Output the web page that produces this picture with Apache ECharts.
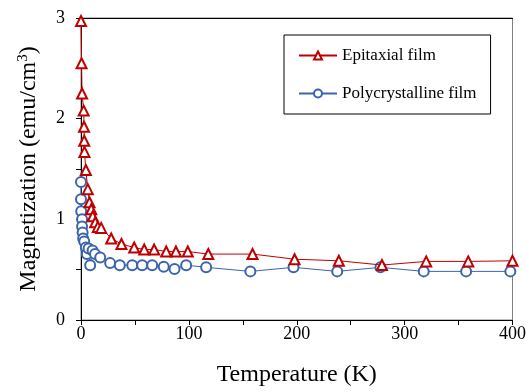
<!DOCTYPE html>
<html>
<head>
<meta charset="utf-8">
<script src="https://cdn.jsdelivr.net/npm/echarts@6/dist/echarts.min.js"></script>
<style>
  html, body { margin: 0; padding: 0; background: #fff; }
  #chart { width: 529px; height: 392px; }
</style>
</head>
<body>
<div id="chart"></div>
<script>
// temperatures (K) and magnetization (emu/cm3)
const epiT = [0, 0.5, 1, 2.5, 2.8, 3, 3.2, 4.5, 6.3, 7.9, 9.5, 10.9, 13.2, 15.6, 18.7, 28, 37.5, 49.3, 58.6, 67.8, 79, 88, 99, 118, 159, 198, 239, 279, 320, 359, 400];
const epiM = [2.97, 2.55, 2.25, 2.08, 1.92, 1.78, 1.67, 1.49, 1.30, 1.17, 1.10, 1.03, 0.97, 0.925, 0.915, 0.81, 0.755, 0.72, 0.70, 0.70, 0.68, 0.68, 0.68, 0.655, 0.655, 0.604, 0.588, 0.546, 0.582, 0.582, 0.588];

const polyT = [0, 0, 0.2, 1, 1, 1.5, 2, 3, 4.5, 5.4, 7, 8.5, 10.7, 13, 17.8, 27, 36, 47.5, 56.7, 66, 76.7, 86.7, 97.5, 116, 157, 197, 237.5, 277.6, 317.7, 357, 398];
const polyM = [1.37, 1.20, 1.08, 1.0, 0.93, 0.87, 0.81, 0.78, 0.72, 0.655, 0.71, 0.545, 0.69, 0.655, 0.62, 0.565, 0.545, 0.545, 0.545, 0.545, 0.53, 0.507, 0.545, 0.523, 0.483, 0.523, 0.483, 0.523, 0.483, 0.483, 0.483];

const xTicks = [0, 100, 200, 300, 400];
const yTicks = [0, 1, 2, 3];

const font = "Liberation Serif";
const red = "#C00000";
const blue = "#3B64AD";

const pairs = (xs, ys) => xs.map((x, i) => [x, ys[i]]);

const chart = echarts.init(document.getElementById("chart"), null, { renderer: "canvas" });

chart.setOption({
  animation: false,
  backgroundColor: "#fff",
  grid: {
    left: 81,
    right: 16,
    top: 18,
    bottom: 67,
    show: true,
    borderColor: "#808080",
    borderWidth: 1,
  },
  legend: {
    orient: "vertical",
    left: 284,
    top: 35,
    padding: [12, 14, 12, 14],
    itemGap: 21,
    itemWidth: 38,
    itemHeight: 10,
    borderColor: "#000",
    borderWidth: 1,
    textStyle: { fontFamily: font, fontSize: 17, color: "#000" },
    data: ["Epitaxial film", "Polycrystalline film"],
  },
  xAxis: [
    {
      type: "value",
      min: xTicks[0],
      max: xTicks[xTicks.length - 1],
      interval: 100,
      name: "Temperature (K)",
      nameLocation: "middle",
      nameGap: 43,
      nameTextStyle: { fontFamily: font, fontSize: 24, color: "#000" },
      axisLine: { show: true, lineStyle: { color: "#000", width: 1 } },
      axisTick: { show: true, inside: false, length: 5, lineStyle: { color: "#000" } },
      minorTick: { show: true, splitNumber: 2, length: 5, lineStyle: { color: "#000" } },
      axisLabel: { fontFamily: font, fontSize: 18, color: "#000", margin: 5 },
      splitLine: { show: false },
    },
    {
      // black top edge of the plot frame
      type: "value",
      position: "top",
      min: 0,
      max: 400,
      axisLine: { show: true, lineStyle: { color: "#000", width: 1 } },
      axisTick: { show: false },
      axisLabel: { show: false },
      splitLine: { show: false },
    },
  ],
  yAxis: {
    type: "value",
    min: yTicks[0],
    max: yTicks[yTicks.length - 1],
    interval: 1,
    name: "{a|Magnetization (emu/cm}{s|3}{a|)}",
    nameLocation: "middle",
    nameRotate: 90,
    nameGap: 40,
    nameTextStyle: {
      rich: {
        a: { fontFamily: font, fontSize: 24, color: "#000" },
        s: { fontFamily: font, fontSize: 15, color: "#000", padding: [0, 0, 10, 0] },
      },
    },
    axisLine: { show: true, lineStyle: { color: "#000", width: 1 } },
    axisTick: { show: true, length: 5, lineStyle: { color: "#000" } },
    minorTick: { show: true, splitNumber: 2, length: 5, lineStyle: { color: "#000" } },
    axisLabel: { fontFamily: font, fontSize: 18, color: "#000", margin: 16 },
    splitLine: { show: false },
  },
  series: [
    {
      name: "Epitaxial film",
      type: "line",
      data: pairs(epiT, epiM),
      symbol: "emptyTriangle",
      symbolSize: 10,
      showAllSymbol: true,
      lineStyle: { color: red, width: 1 },
      itemStyle: { color: red, borderColor: red, borderWidth: 1.5 },
      emphasis: { disabled: true },
      z: 3,
    },
    {
      name: "Polycrystalline film",
      type: "line",
      data: pairs(polyT, polyM),
      symbol: "emptyCircle",
      symbolSize: 10,
      showAllSymbol: true,
      lineStyle: { color: blue, width: 1 },
      itemStyle: { color: blue, borderColor: blue, borderWidth: 1.5 },
      emphasis: { disabled: true },
      z: 2,
    },
  ],
});
</script>
</body>
</html>
